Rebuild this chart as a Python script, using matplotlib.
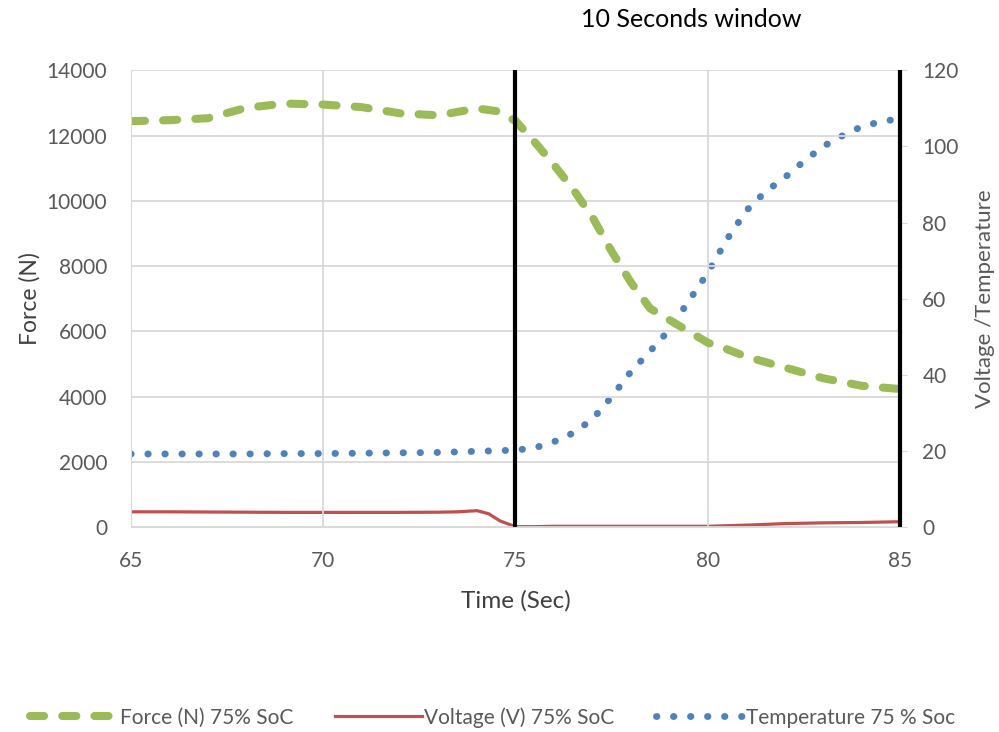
import matplotlib
matplotlib.use("Agg")
import matplotlib.pyplot as plt

plt.rcParams['font.family'] = ['Lato', 'DejaVu Sans']

# force (N), left axis
force_t = [65, 66, 67, 68, 69, 70, 71, 72, 73, 74, 74.5, 75, 75.5, 76, 76.5, 77, 77.5,
           78, 78.5, 79, 79.5, 80, 80.5, 81, 82, 83, 84, 85]
force = [12440, 12470, 12530, 12850, 12980, 12950, 12870, 12680, 12620, 12830, 12750,
         12450, 11800, 11100, 10350, 9500, 8450, 7500, 6700, 6350, 6000, 5650, 5450,
         5220, 4890, 4560, 4330, 4230]

# voltage (V), right axis
volt_t = [65, 66, 67, 68, 69, 70, 71, 72, 73, 73.5, 74, 74.3, 74.6, 75, 75.5, 76, 77,
          78, 79, 80, 81, 82, 83, 84, 85]
volt = [4.0, 4.0, 3.95, 3.9, 3.85, 3.85, 3.85, 3.85, 3.9, 4.0, 4.3, 3.5, 1.6, 0.1, 0.1,
        0.2, 0.2, 0.2, 0.2, 0.2, 0.5, 0.9, 1.1, 1.2, 1.4]

# temperature, right axis
temp_t = [65, 66, 67, 68, 69, 70, 71, 72, 73, 74, 75, 75.5, 76, 76.5, 77, 77.5, 78,
          78.5, 79, 79.5, 80, 80.5, 81, 81.5, 82, 82.5, 83, 83.5, 84, 84.5, 85]
temp = [19.2, 19.2, 19.2, 19.2, 19.3, 19.3, 19.4, 19.5, 19.6, 19.9, 20.2, 20.8, 22.4,
        24.7, 28.3, 34.2, 40.8, 46.2, 51.8, 59.3, 66.8, 75.6, 83.1, 88.1, 91.8, 96.1,
        100, 102.8, 105.2, 106.5, 107.3]

window = [75, 85]

green = '#9BBB59'
red = '#C0504D'
blue = '#4F81BD'
grid_c = '#D9D9D9'
txt_c = '#595959'

fig = plt.figure(figsize=(9.99, 7.32), dpi=100)
ax = fig.add_axes([0.131, 0.28, 0.77, 0.624])
ax2 = ax.twinx()

ax.set_xlim(65, 85)
ax.set_ylim(0, 14000)
ax2.set_ylim(0, 120)
ax.set_xticks([65, 70, 75, 80, 85])
ax.set_yticks(range(0, 14001, 2000))
ax2.set_yticks(range(0, 121, 20))
ax.grid(True, color=grid_c, lw=1.3)
ax.set_axisbelow(True)

for a in (ax, ax2):
    for s in a.spines.values():
        s.set_visible(False)
ax.spines['left'].set_visible(True)
ax.spines['left'].set_color(grid_c)
ax.spines['bottom'].set_visible(True)
ax.spines['bottom'].set_color(grid_c)
ax2.spines['right'].set_visible(True)
ax2.spines['right'].set_color(grid_c)

ax.tick_params(axis='y', length=0, labelsize=15, labelcolor=txt_c, pad=17)
ax.tick_params(axis='x', length=0, labelsize=15, labelcolor=txt_c, pad=17)
ax2.tick_params(axis='y', length=5, color=grid_c, labelsize=15, labelcolor=txt_c, pad=11)

l1, = ax.plot(force_t, force, color=green, lw=5.8, dashes=(1.75, 2.25),
              dash_capstyle='round', solid_capstyle='round', label='Force (N) 75% SoC')
l2, = ax2.plot(volt_t, volt, color=red, lw=2.3, label='Voltage (V) 75% SoC')
l3, = ax2.plot(temp_t, temp, color=blue, lw=5, dashes=(0.05, 2.4),
               dash_capstyle='round', label='Temperature 75 % Soc')
ax.set_zorder(ax2.get_zorder() + 1)
ax.patch.set_visible(False)

for w in window:
    ax.plot([w, w], [0, 14000], color='black', lw=3, solid_capstyle='butt', clip_on=False)

ax.set_xlabel('Time (Sec)', fontsize=17.5, color='#404040', labelpad=14)
ax.set_ylabel('Force (N)', fontsize=16.5, color='#404040', labelpad=4)
ax2.set_ylabel('Voltage /Temperature', fontsize=16, color=txt_c, labelpad=12)

fig.text(0.692, 0.973, '10 Seconds window', fontsize=18, ha='center', va='center')

fig.legend(handles=[l1, l2, l3], loc='center', bbox_to_anchor=(0.493, 0.02),
           ncol=3, frameon=False, fontsize=15, handlelength=4.2, columnspacing=2.0,
           handletextpad=0.1, labelcolor=txt_c)

fig.savefig('out.png', dpi=100)
